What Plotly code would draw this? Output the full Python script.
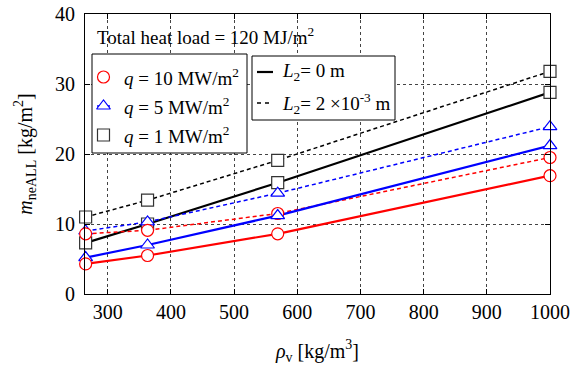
import plotly.graph_objects as go

rho_v = [265, 363, 569, 1000]
q10_L0 = [4.3, 5.5, 8.6, 16.9]
q10_L2 = [8.6, 9.1, 11.5, 19.5]
q5_L0 = [5.2, 7.0, 11.2, 21.2]
q5_L2 = [9.0, 10.3, 14.4, 23.9]
q1_L0 = [7.3, 10.0, 15.9, 28.8]
q1_L2 = [11.0, 13.4, 19.1, 31.8]

x_ticks = [300, 400, 500, 600, 700, 800, 900, 1000]
y_ticks = [0, 10, 20, 30, 40]

FONT = "'Liberation Serif', 'Times New Roman', serif"
RED, BLUE, BLK = "#ff0000", "#0000ff", "#000000"
MK_BLK = "#333333"

# plot area in pixels (for legend/annotation placement)
PX0, PX1, PY0, PY1 = 85, 550, 14, 294

fig = go.Figure()

series = [
    (q1_L2, BLK, MK_BLK, "square", "dash", 1.5),
    (q1_L0, BLK, MK_BLK, "square", "solid", 2.2),
    (q5_L2, BLUE, BLUE, "triangle-up", "dash", 1.5),
    (q10_L2, RED, RED, "circle", "dash", 1.5),
    (q5_L0, BLUE, BLUE, "triangle-up", "solid", 2.2),
    (q10_L0, RED, RED, "circle", "solid", 2.2),
]
for ys, lc, mc, sym, dash, w in series:
    fig.add_trace(go.Scatter(
        x=rho_v, y=ys, mode="lines",
        line=dict(color=lc, width=w, dash="4px,3px" if dash == "dash" else "solid"),
        showlegend=False, cliponaxis=False, hoverinfo="skip"))
for ys, lc, mc, sym, dash, w in series:
    fig.add_trace(go.Scatter(
        x=rho_v, y=ys, mode="markers",
        marker=dict(symbol=sym, size=12, color="white", line=dict(color=mc, width=1.2)),
        showlegend=False, cliponaxis=False, hoverinfo="skip"))


def box(x0, x1, y0, y1):
    fig.add_trace(go.Scatter(x=[x0, x1, x1, x0, x0], y=[y0, y0, y1, y1, y0],
                             xaxis="x2", yaxis="y2", mode="lines", fill="toself",
                             fillcolor="white", line=dict(color="black", width=1),
                             showlegend=False, hoverinfo="skip"))


box(92, 247, 54, 153)
box(252, 395, 56, 120)

# ---- legend samples on a pixel-like overlay axis ----
leg_q = [("circle", RED, "<i>q</i> = 10 MW/m<sup>2</sup>", 77),
         ("triangle-up", BLUE, "<i>q</i> = 5 MW/m<sup>2</sup>", 106),
         ("square", MK_BLK, "<i>q</i> = 1 MW/m<sup>2</sup>", 135)]
for sym, c, txt, yy in leg_q:
    fig.add_trace(go.Scatter(x=[97, 110], y=[yy, yy], xaxis="x2", yaxis="y2", mode="lines",
                             line=dict(color=c, width=1.5), showlegend=False, hoverinfo="skip"))
    fig.add_trace(go.Scatter(x=[103.5], y=[yy], xaxis="x2", yaxis="y2", mode="markers",
                             marker=dict(symbol=sym, size=12, color="white", line=dict(color=c, width=1.2)),
                             showlegend=False, hoverinfo="skip"))
    fig.add_annotation(x=122, y=yy, xref="x2", yref="y2", text=txt,
                       showarrow=False, xanchor="left", yanchor="middle",
                       font=dict(family=FONT, size=19, color="black"))

leg_L = [("solid", "<i>L</i><sub>2</sub>= 0 m", 72),
         ("dash", "<i>L</i><sub>2</sub>= 2 ×10<sup>-3</sup> m", 103)]
for d, txt, yy in leg_L:
    fig.add_trace(go.Scatter(x=[257, 273], y=[yy, yy], xaxis="x2", yaxis="y2", mode="lines",
                             line=dict(color=BLK, width=2.2 if d == "solid" else 1.5,
                                       dash="solid" if d == "solid" else "4px,4px"),
                             showlegend=False, hoverinfo="skip"))
    fig.add_annotation(x=280, y=yy, xref="x2", yref="y2", text=txt,
                       showarrow=False, xanchor="left", yanchor="middle",
                       font=dict(family=FONT, size=19, color="black"))

fig.add_annotation(x=95, y=36, xref="x2", yref="y2",
                   text="Total heat load = 120 MJ/m<sup>2</sup>",
                   showarrow=False, xanchor="left", yanchor="middle",
                   font=dict(family=FONT, size=19, color="black"))

axis_common = dict(showline=True, linecolor="black", linewidth=1, mirror="allticks",
                   ticks="inside", ticklen=5, tickcolor="black", tickwidth=1,
                   showgrid=True, gridcolor="#444444", griddash="dot", gridwidth=1,
                   zeroline=False, automargin=False,
                   tickfont=dict(family=FONT, size=20, color="black"))

fig.update_layout(
    template="none",
    width=572, height=374,
    margin=dict(l=85, r=22, t=14, b=80),
    paper_bgcolor="white", plot_bgcolor="white",
    font=dict(family=FONT, color="black"),
    xaxis=dict(range=[264, 1000], tickvals=x_ticks, ticklabelstandoff=0,
               title=dict(text="<i>ρ</i><sub>v</sub> [kg/m<sup>3</sup>]",
                          font=dict(family=FONT, size=20), standoff=21),
               **axis_common),
    yaxis=dict(range=[0, 40], tickvals=y_ticks, ticklabelstandoff=5,
               title=dict(text="<i>m</i><sub>neALL</sub> [kg/m<sup>2</sup>]",
                          font=dict(family=FONT, size=20), standoff=17),
               **axis_common),
    xaxis2=dict(range=[PX0, PX1], overlaying="x", visible=False, fixedrange=True),
    yaxis2=dict(range=[PY1, PY0], overlaying="y", visible=False, fixedrange=True),
    showlegend=False,
)

fig.write_html("out.html")
